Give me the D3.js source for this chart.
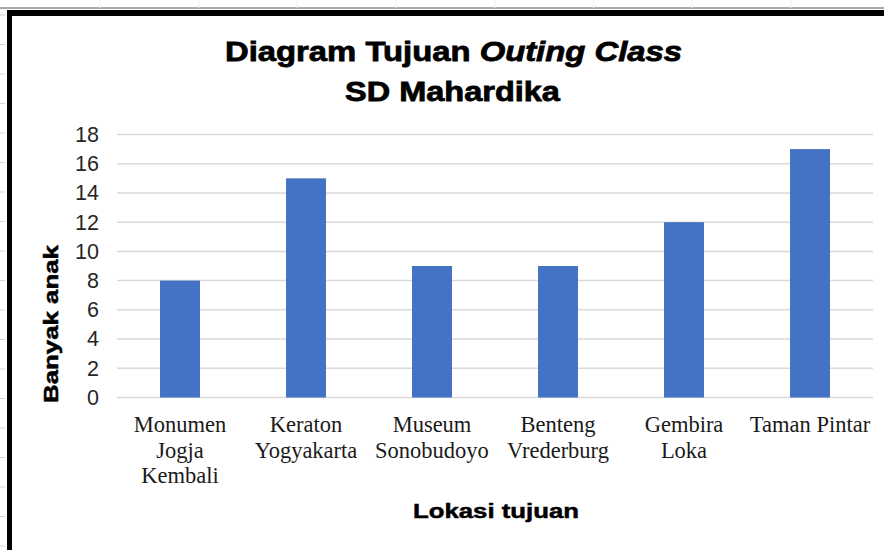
<!DOCTYPE html>
<html>
<head>
<meta charset="utf-8">
<script src="https://cdn.jsdelivr.net/npm/d3@7"></script>
<style>
  body { margin: 0; background: #fff; }
  svg { display: block; }
</style>
</head>
<body>
<div id="chart"></div>
<script>
// ===== Data =====
const categories = ['Monumen Jogja Kembali', 'Keraton Yogyakarta', 'Museum Sonobudoyo',
  'Benteng Vrederburg', 'Gembira Loka', 'Taman Pintar'];
const categoryLines = [
  ['Monumen', 'Jogja', 'Kembali'],
  ['Keraton', 'Yogyakarta'],
  ['Museum', 'Sonobudoyo'],
  ['Benteng', 'Vrederburg'],
  ['Gembira', 'Loka'],
  ['Taman Pintar']
];
const values = [8, 15, 9, 9, 12, 17];
const yTicks = [0, 2, 4, 6, 8, 10, 12, 14, 16, 18];

const width = 884, height = 550;
const plot = { left: 117, right: 873, top: 134.5, bottom: 397.5 };

const svg = d3.select('#chart').append('svg')
  .attr('width', width).attr('height', height);

// stretch a text horizontally around its anchor so it fills targetW
function fitWidth(sel, targetW, cx) {
  const w = sel.node().getComputedTextLength();
  const sx = targetW / w;
  sel.attr('transform', `translate(${cx},0) scale(${sx},1) translate(${-cx},0)`);
}

// ===== Sheet decorations (spreadsheet edge + black frame) =====
svg.append('line').attr('x1', 0).attr('x2', width).attr('y1', 8).attr('y2', 8)
  .attr('stroke', '#555').attr('stroke-width', 1);
svg.selectAll('.rowtick').data(d3.range(15, height, 29.5)).join('line')
  .attr('x1', 0).attr('x2', 5).attr('y1', d => d).attr('y2', d => d)
  .attr('stroke', '#d4d4d4').attr('stroke-width', 1);
svg.selectAll('.coltick').data(d3.range(100, width, 98.7)).join('line')
  .attr('x1', d => d).attr('x2', d => d).attr('y1', 0).attr('y2', 8)
  .attr('stroke', '#ececec').attr('stroke-width', 1);
svg.append('line').attr('x1', 7).attr('x2', width).attr('y1', 13).attr('y2', 13)
  .attr('stroke', '#000').attr('stroke-width', 6);
svg.append('line').attr('x1', 9.5).attr('x2', 9.5).attr('y1', 10).attr('y2', height)
  .attr('stroke', '#000').attr('stroke-width', 5);

// ===== Scales =====
const x = d3.scaleBand().domain(categories).range([plot.left, plot.right])
  .paddingInner(0.683).paddingOuter(0.3415);
const y = d3.scaleLinear().domain([0, 18]).range([plot.bottom, plot.top]);

// Grid lines
svg.append('g')
  .selectAll('line').data(yTicks).join('line')
  .attr('x1', plot.left).attr('x2', plot.right)
  .attr('y1', d => y(d)).attr('y2', d => y(d))
  .attr('stroke', '#d9d9d9').attr('stroke-width', 1.5);

// Y axis labels
const yAxis = svg.append('g')
  .attr('transform', `translate(${plot.left - 18},0)`)
  .call(d3.axisLeft(y).tickValues(yTicks).tickSize(0).tickPadding(0));
yAxis.select('.domain').remove();
yAxis.selectAll('text')
  .style('font-family', 'Liberation Sans, Arial, sans-serif')
  .style('font-size', '21.5px').style('fill', '#262626');

// Bars
svg.append('g').selectAll('rect')
  .data(values).join('rect')
  .attr('x', (d, i) => x(categories[i]))
  .attr('width', x.bandwidth())
  .attr('y', d => y(d))
  .attr('height', d => y(0) - y(d))
  .attr('fill', '#4472c4');

// X category labels
const xl = svg.append('g');
categoryLines.forEach((lines, i) => {
  const cx = x(categories[i]) + x.bandwidth() / 2;
  const t = xl.append('text')
    .attr('text-anchor', 'middle')
    .style('font-family', 'Liberation Serif, Times New Roman, serif')
    .style('font-size', '22.5px').style('fill', '#1a1a1a');
  lines.forEach((ln, j) => {
    t.append('tspan').attr('x', cx).attr('y', 432 + j * 25.5).text(ln);
  });
});

// ===== Titles =====
const boldStyle = s => s
  .style('font-family', 'Liberation Sans, Arial, sans-serif')
  .style('font-weight', 'bold').style('fill', '#000')
  .style('stroke', '#000').style('stroke-width', 0.8);

const t1 = svg.append('text').attr('x', 453.5).attr('y', 61)
  .attr('text-anchor', 'middle').style('font-size', '28px').call(boldStyle);
t1.append('tspan').text('Diagram Tujuan ');
t1.append('tspan').style('font-style', 'italic').text('Outing Class');
fitWidth(t1, 457, 453.5);

const t2 = svg.append('text').attr('x', 452.5).attr('y', 101)
  .attr('text-anchor', 'middle').style('font-size', '28px').call(boldStyle)
  .text('SD Mahardika');
fitWidth(t2, 215, 452.5);

// Axis titles
const xt = svg.append('text').attr('x', 496).attr('y', 518)
  .attr('text-anchor', 'middle').style('font-size', '21px').call(boldStyle)
  .style('stroke-width', 0.5)
  .text('Lokasi tujuan');
fitWidth(xt, 166, 496);

const ytG = svg.append('g').attr('transform', 'translate(58,324) rotate(-90)');
const yt = ytG.append('text').attr('x', 0).attr('y', 0)
  .attr('text-anchor', 'middle').style('font-size', '20.5px').call(boldStyle)
  .style('stroke-width', 0.5)
  .text('Banyak anak');
fitWidth(yt, 158, 0);
</script>
</body>
</html>
